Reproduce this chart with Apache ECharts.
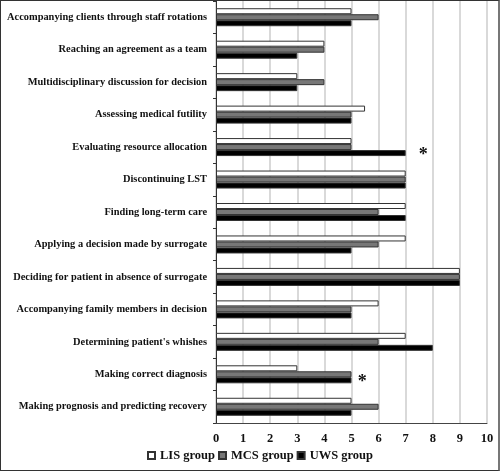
<!doctype html>
<html>
<head>
<meta charset="UTF-8">
<title>Chart</title>
<script src="https://cdn.jsdelivr.net/npm/echarts@6/dist/echarts.min.js"></script>
<style>
  html, body { margin: 0; padding: 0; background: #fff; }
  #main {
    width: 500px; height: 471px; box-sizing: border-box;
    border: 1.5px solid #333; border-right: 2.5px solid #777;
  }
</style>
</head>
<body>
<div id="main"></div>
<script>
// categories, top to bottom
var categories = [
  'Accompanying clients through staff rotations',
  'Reaching an agreement as a team',
  'Multidisciplinary discussion for decision',
  'Assessing medical futility',
  'Evaluating resource allocation',
  'Discontinuing LST',
  'Finding long-term care',
  'Applying a decision made by surrogate',
  'Deciding for patient in absence of surrogate',
  'Accompanying family members in decision',
  "Determining patient's whishes",
  'Making correct diagnosis',
  'Making prognosis and predicting recovery'
];
var lisValues = [5, 4, 3, 5.5, 5, 7, 7, 7, 9, 6, 7, 3, 5];
var mcsValues = [6, 4, 4, 5, 5, 7, 6, 6, 9, 5, 6, 5, 6];
var uwsValues = [5, 3, 3, 5, 7, 7, 7, 5, 9, 5, 8, 5, 5];
var xTicks = [0, 1, 2, 3, 4, 5, 6, 7, 8, 9, 10];
// significance marks: [x value, category]
var starMarks = [
  [7.65, 'Evaluating resource allocation'],
  [5.4, 'Making correct diagnosis']
];

var myChart = echarts.init(document.getElementById('main'));
var serif = '"Liberation Serif", "Times New Roman", serif';

function barSeries(name, data, color) {
  return {
    name: name,
    type: 'bar',
    data: data,
    barWidth: 6,
    barGap: '0%',
    itemStyle: { color: color, borderColor: '#333', borderWidth: 1 }
  };
}

var uws = barSeries('UWS group', uwsValues, '#000');
uws.markPoint = {
  symbol: 'circle',
  symbolSize: 0,
  label: {
    show: true, formatter: '*', color: '#111',
    fontFamily: serif, fontWeight: 'bold', fontSize: 18, offset: [0, 2]
  },
  data: starMarks.map(function (m) { return { coord: m }; })
};

var option = {
  backgroundColor: '#fff',
  animation: false,
  textStyle: { fontFamily: serif },
  grid: { left: 215, right: 11, top: 0, bottom: 47, outerBoundsMode: 'none', containLabel: false },
  legend: {
    left: 141, top: 443,
    icon: 'rect', itemWidth: 7, itemHeight: 7, itemGap: 3,
    textStyle: { fontFamily: serif, fontWeight: 'bold', fontSize: 12.5, color: '#111' },
    data: ['LIS group', 'MCS group', 'UWS group']
  },
  xAxis: {
    type: 'value',
    min: xTicks[0], max: xTicks[xTicks.length - 1], interval: 1,
    axisLine: { show: true, lineStyle: { color: '#444', width: 1 } },
    axisTick: { show: false },
    splitLine: { show: true, lineStyle: { color: '#ccc', width: 1.5 } },
    axisLabel: { color: '#111', fontWeight: 'bold', fontSize: 12.5, margin: 9 }
  },
  yAxis: {
    type: 'category',
    data: categories,
    inverse: true,
    axisLine: { show: true, lineStyle: { color: '#333', width: 1 } },
    axisTick: { show: true, length: 3, lineStyle: { color: '#333' } },
    axisLabel: { color: '#111', fontWeight: 'bold', fontSize: 10.4, margin: 9 }
  },
  series: [
    barSeries('LIS group', lisValues, '#fff'),
    barSeries('MCS group', mcsValues, '#777'),
    uws
  ]
};

myChart.setOption(option);
</script>
</body>
</html>
